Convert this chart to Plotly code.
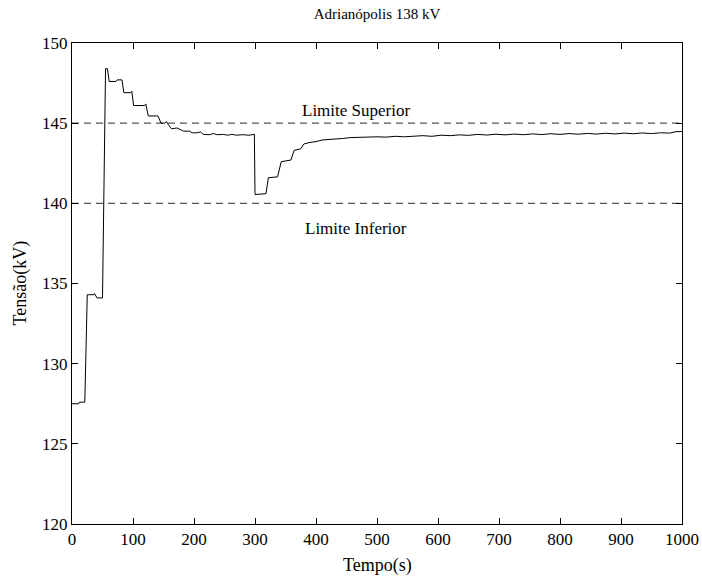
import plotly.graph_objects as go

# Voltage at the Adrianópolis 138 kV bus over time
tempo = [0, 11, 12, 21, 25, 36, 37, 41, 50, 55, 58, 61, 72, 74, 82, 85, 96, 98, 101,
         119, 121, 125, 141, 146, 152, 155, 158, 163, 172, 178, 183, 193, 197, 205,
         211, 215, 225, 232, 238, 248, 255, 262, 270, 280, 290, 299, 300, 318, 322,
         337, 343, 359, 364, 375, 380, 390, 400, 410, 420, 434, 445, 456, 470, 485,
         500, 515, 530, 545, 560, 575, 590, 605, 620, 635, 650, 665, 680, 695, 710,
         725, 740, 755, 770, 785, 800, 815, 830, 845, 860, 875, 890, 905, 920, 935,
         950, 965, 980, 990, 1000]
tensao = [127.5, 127.5, 127.6, 127.6, 134.3, 134.3, 134.37, 134.1, 134.1, 148.4,
          148.4, 147.6, 147.6, 147.7, 147.7, 146.9, 146.9, 147.0, 146.1,
          146.1, 146.2, 145.45, 145.45, 145.0, 145.0, 145.1, 144.9, 144.65, 144.7,
          144.6, 144.5, 144.5, 144.4, 144.4,
          144.45, 144.3, 144.28, 144.35, 144.28, 144.3, 144.25, 144.3, 144.25, 144.28,
          144.25, 144.3, 140.55, 140.6, 141.6,
          141.65, 142.6, 142.7, 143.3, 143.4, 143.7, 143.8, 143.85, 143.95, 143.97,
          144.02, 144.05, 144.1, 144.12, 144.1,
          144.15, 144.13, 144.18, 144.15, 144.2, 144.22, 144.18, 144.25, 144.22, 144.27,
          144.24, 144.3, 144.26, 144.31, 144.27,
          144.32, 144.28, 144.33, 144.29, 144.34, 144.3, 144.35, 144.31, 144.36, 144.32,
          144.37, 144.33, 144.38, 144.34, 144.39,
          144.35, 144.4, 144.38, 144.47, 144.48]

limite_superior = 145
limite_inferior = 140
x_ticks = [0, 100, 200, 300, 400, 500, 600, 700, 800, 900, 1000]
y_ticks = [120, 125, 130, 135, 140, 145, 150]

serif = "Liberation Serif, Times New Roman, serif"

fig = go.Figure()

for lim in (limite_superior, limite_inferior):
    fig.add_trace(go.Scatter(
        x=[x_ticks[0], x_ticks[-1]], y=[lim, lim], mode="lines",
        line=dict(color="#555555", width=1.3, dash="7px,5px"),
        hoverinfo="skip", showlegend=False))

fig.add_trace(go.Scatter(
    x=tempo, y=tensao, mode="lines",
    line=dict(color="black", width=1), showlegend=False))

axis_common = dict(
    showline=True, linecolor="black", linewidth=1, mirror="ticks",
    ticks="inside", ticklen=6, tickcolor="black", tickwidth=1,
    showgrid=False, zeroline=False, automargin=False,
    tickfont=dict(family=serif, size=17, color="black"),
)

fig.update_xaxes(range=[0, 1000], tickvals=x_ticks, **axis_common)
fig.update_yaxes(range=[120, 150], tickvals=y_ticks, **axis_common)

fig.update_layout(
    width=702, height=577,
    margin=dict(l=72, r=20, t=43, b=53),
    paper_bgcolor="white", plot_bgcolor="white",
    title=dict(text="Adrianópolis 138 kV", x=377 / 702, xanchor="center",
               y=1 - 14 / 577, yanchor="middle", yref="container",
               font=dict(family=serif, size=15, color="black")),
    annotations=[
        dict(text="Tempo(s)", xref="paper", yref="paper", x=0.5, y=-41 / 481,
             xanchor="center", yanchor="middle", showarrow=False,
             font=dict(family=serif, size=18, color="black")),
        dict(text="Tensão(kV)", xref="paper", yref="paper", x=-52 / 610, y=0.5,
             xanchor="center", yanchor="middle", textangle=-90, showarrow=False,
             font=dict(family=serif, size=18, color="black")),
        dict(text="Limite Superior", x=466, y=145.8, xref="x", yref="y",
             xanchor="center", yanchor="middle", showarrow=False,
             font=dict(family=serif, size=17, color="black")),
        dict(text="Limite Inferior", x=466, y=138.4, xref="x", yref="y",
             xanchor="center", yanchor="middle", showarrow=False,
             font=dict(family=serif, size=17, color="black")),
    ],
)

fig.write_html("out.html")
